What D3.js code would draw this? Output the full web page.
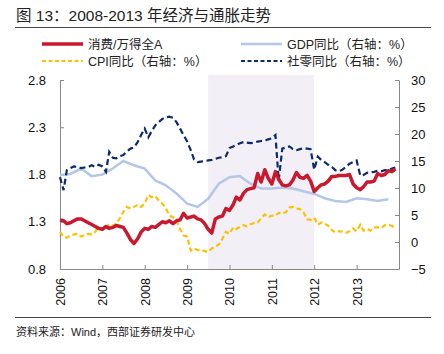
<!DOCTYPE html>
<html lang="zh">
<head>
<meta charset="UTF-8">
<title>2008-2013 年经济与通胀走势</title>
<script src="https://d3js.org/d3.v7.min.js"></script>
<style>
  body { margin: 0; background: #fff; }
  text { font-family: "Liberation Sans", Arial, "Noto Sans CJK SC", sans-serif; fill: #111; }
  .cjk { font-family: "Liberation Sans", "Noto Sans CJK SC", sans-serif; }
  .axis path, .axis line { stroke: #888; }
</style>
</head>
<body>
<script>
const width = 444, height = 354;

// monthly data, 2006-01 .. 2013-12
const startYear = 2006;
const consumeRatio = [
  1.32, 1.31, 1.28, 1.29, 1.31, 1.33, 1.33, 1.31, 1.29, 1.27, 1.25, 1.23,
  1.22, 1.25, 1.23, 1.24, 1.26, 1.25, 1.24, 1.18, 1.11, 1.07, 1.12, 1.19,
  1.23, 1.22, 1.25, 1.24, 1.27, 1.30, 1.29, 1.31, 1.28, 1.31, 1.32, 1.39,
  1.34, 1.35, 1.36, 1.33, 1.32, 1.28, 1.22, 1.18, 1.33, 1.35, 1.36, 1.44,
  1.42, 1.48, 1.56, 1.53, 1.60, 1.64, 1.65, 1.66, 1.81, 1.72, 1.85, 1.76,
  1.70, 1.83, 1.75, 1.69, 1.68, 1.69, 1.74, 1.82, 1.77, 1.76, 1.79, 1.73,
  1.62, 1.66, 1.69, 1.70, 1.73, 1.78, 1.78, 1.79, 1.79, 1.79, 1.80, 1.70,
  1.66, 1.64, 1.67, 1.72, 1.72, 1.73, 1.81, 1.79, 1.80, 1.84, 1.83, 1.86
];
const cpiYoy = [
  1.9, 0.9, 0.8, 1.2, 1.4, 1.5, 1.0, 1.3, 1.5, 1.4, 1.9, 2.8,
  2.2, 2.7, 3.3, 3.0, 3.4, 4.4, 5.6, 6.5, 6.2, 6.5, 6.9, 6.5,
  7.1, 8.7, 8.3, 8.5, 7.7, 7.1, 6.3, 4.9, 4.6, 4.0, 2.4, 1.2,
  1.0, -1.6, -1.2, -1.5, -1.4, -1.7, -1.8, -1.2, -0.8, -0.5, 0.6, 1.9,
  1.5, 2.7, 2.4, 2.8, 3.1, 2.9, 3.3, 3.5, 3.6, 4.4, 5.1, 4.6,
  4.9, 4.9, 5.4, 5.3, 5.5, 6.4, 6.5, 6.2, 6.1, 5.5, 4.2, 4.1,
  4.5, 3.2, 3.6, 3.4, 3.0, 2.2, 1.8, 2.0, 1.9, 1.7, 2.0, 2.5,
  2.0, 3.2, 2.1, 2.4, 2.1, 2.7, 2.7, 2.6, 3.1, 3.2, 3.0, 2.5
];
const retailYoy = [
  12.0, 9.6, 13.3, 13.7, 14.0, 13.9, 13.7, 13.8, 13.9, 14.2, 13.9, 14.3,
  14.0, 13.0, 16.7, 15.6, 15.5, 15.9, 16.1, 16.8, 17.3, 17.5, 18.5, 19.8,
  21.0, 19.4, 20.5, 21.6, 22.2, 22.8, 23.1, 23.2, 23.0, 22.2, 21.0, 19.8,
  18.6, 17.0, 15.3, 14.8, 14.9, 15.0, 15.1, 15.2, 15.4, 15.6, 15.7, 15.9,
  17.4, 17.7, 18.0, 18.3, 18.5, 18.4, 18.3, 18.4, 18.6, 18.7, 18.8, 19.0,
  19.2, 19.8, 11.4, 17.3, 17.5, 17.7, 17.2, 17.0, 17.2, 17.4, 17.3, 17.2,
  13.4, 15.8, 15.2, 14.8, 14.3, 13.9, 13.3, 13.1, 13.4, 13.9, 14.5, 14.8,
  15.1, 12.3, 12.4, 12.8, 12.9, 13.0, 13.2, 13.1, 13.3, 13.3, 13.6, 13.8
];
// quarterly GDP
const gdpYoy = [
  12.4, 12.6, 13.6, 12.2,
  12.5, 13.6, 15.0, 14.2,
  13.6, 11.4, 10.5, 9.0,
  7.1, 6.5, 8.0, 10.8,
  12.0, 12.2, 10.8, 9.9,
  9.9, 10.1, 9.9, 9.4,
  8.9, 8.1, 7.6, 7.4,
  8.1, 7.9, 7.6, 7.9
];
const yearTicks = [2006, 2007, 2008, 2009, 2010, 2011, 2012, 2013];
const leftTicks = [0.8, 1.3, 1.8, 2.3, 2.8];
const rightTicks = [-5, 0, 5, 10, 15, 20, 25, 30];
const shadeRange = [new Date(2009, 6, 1), new Date(2012, 0, 1)];

const monthDate = i => new Date(startYear, i, 1);

const margin = {left: 60, right: 45, top: 80, bottom: 85};
const x = d3.scaleTime()
  .domain([new Date(2006, 0, 1), new Date(2014, 0, 1)])
  .range([margin.left, width - margin.right]);
const yL = d3.scaleLinear().domain([0.8, 2.8]).range([269, 80]);
const yR = d3.scaleLinear().domain([-5, 30]).range([269, 80]);

const svg = d3.select("body").append("svg")
  .attr("width", width).attr("height", height);

// title
svg.append("text").attr("class", "cjk")
  .attr("x", 16).attr("y", 21)
  .style("font-size", "15.5px").style("fill", "#222")
  .text("图 13：2008-2013 年经济与通胀走势");
svg.append("line").attr("x1", 15).attr("x2", 431).attr("y1", 27.5).attr("y2", 27.5)
  .attr("stroke", "#444").attr("stroke-width", 1);

// shaded period
svg.append("rect")
  .attr("x", x(shadeRange[0])).attr("width", x(shadeRange[1]) - x(shadeRange[0]))
  .attr("y", 75).attr("height", 269 - 75)
  .attr("fill", "#f2f0f6");

// axes
const axL = svg.append("g").attr("class", "axis")
  .attr("transform", `translate(${margin.left},0)`)
  .call(d3.axisLeft(yL).tickValues(leftTicks).tickFormat(d3.format(".1f")).tickSizeInner(-4).tickSizeOuter(0).tickPadding(14));
const axR = svg.append("g").attr("class", "axis")
  .attr("transform", `translate(${width - margin.right},0)`)
  .call(d3.axisRight(yR).tickValues(rightTicks).tickSizeInner(-4).tickSizeOuter(0).tickPadding(12));
const axB = svg.append("g").attr("class", "axis")
  .attr("transform", "translate(0,269)")
  .call(d3.axisBottom(x).tickValues(yearTicks.map(y => new Date(y, 0, 1)))
    .tickFormat(d3.timeFormat("%Y")).tickSizeInner(-4).tickSizeOuter(0));
axB.selectAll("text")
  .attr("transform", "rotate(-90)")
  .attr("x", -9).attr("y", 0).attr("dy", "0.35em")
  .style("text-anchor", "end");
[axL, axR, axB].forEach(a => a.selectAll("text").style("font-size", "13px").style("fill", "#111"));
axB.selectAll("text").style("font-size", "12.5px");

// lines
const lineL = d3.line().x(d => x(d.date)).y(d => yL(d.v));
const lineR = d3.line().x(d => x(d.date)).y(d => yR(d.v));
const monthly = arr => arr.map((v, i) => ({date: monthDate(i), v}));
const quarterly = gdpYoy.map((v, i) => ({date: monthDate(i * 3), v}));

svg.append("path").datum(quarterly).attr("d", lineR)
  .attr("fill", "none").attr("stroke", "#b4c7e7").attr("stroke-width", 2.5);
svg.append("path").datum(monthly(cpiYoy)).attr("d", lineR)
  .attr("fill", "none").attr("stroke", "#ffc000").attr("stroke-width", 2.2)
  .attr("stroke-dasharray", "5,3");
svg.append("path").datum(monthly(retailYoy)).attr("d", lineR)
  .attr("fill", "none").attr("stroke", "#0d2a6b").attr("stroke-width", 2.2)
  .attr("stroke-dasharray", "6,3.5");
svg.append("path").datum(monthly(consumeRatio)).attr("d", lineL)
  .attr("fill", "none").attr("stroke", "#c8192e").attr("stroke-width", 3.5)
  .attr("stroke-linejoin", "round");

// legend
const legend = [
  {label: "消费/万得全A", color: "#c8192e", w: 3.5, dash: null, x: 42, y: 44},
  {label: "GDP同比（右轴：%）", color: "#b4c7e7", w: 2.5, dash: null, x: 241, y: 44},
  {label: "CPI同比（右轴：%）", color: "#ffc000", w: 2.2, dash: "4,2.5", x: 42, y: 61},
  {label: "社零同比（右轴：%）", color: "#0d2a6b", w: 2.2, dash: "4,2.5", x: 241, y: 61}
];
const lg = svg.selectAll("g.lg").data(legend).enter().append("g").attr("class", "lg")
  .attr("transform", d => `translate(${d.x},${d.y})`);
lg.append("line").attr("x1", 0).attr("x2", 41).attr("y1", 0).attr("y2", 0)
  .attr("stroke", d => d.color).attr("stroke-width", d => d.w)
  .attr("stroke-dasharray", d => d.dash);
lg.append("text").attr("class", "cjk").attr("x", 46).attr("y", 0).attr("dy", "0.36em")
  .style("font-size", "12.5px").style("fill", "#222")
  .text(d => d.label);

// source
svg.append("line").attr("x1", 15).attr("x2", 431).attr("y1", 317.5).attr("y2", 317.5)
  .attr("stroke", "#444").attr("stroke-width", 1);
svg.append("text").attr("class", "cjk")
  .attr("x", 16).attr("y", 336)
  .style("font-size", "11px").style("fill", "#222")
  .text("资料来源：Wind，西部证券研发中心");
</script>
</body>
</html>
